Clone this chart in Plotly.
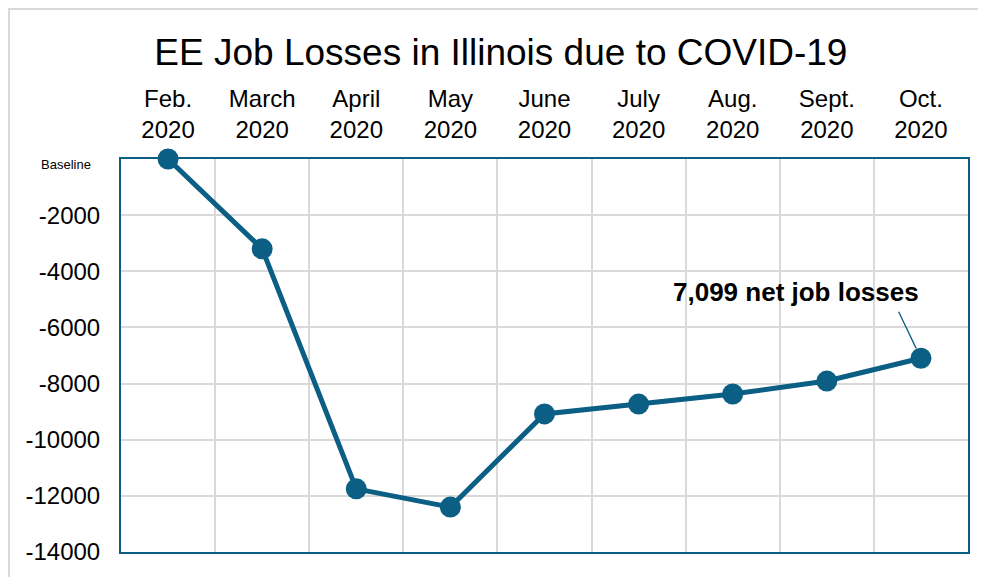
import plotly.graph_objects as go

# Datos
meses = ["Feb.<br>2020", "March<br>2020", "April<br>2020", "May<br>2020", "June<br>2020",
         "July<br>2020", "Aug.<br>2020", "Sept.<br>2020", "Oct.<br>2020"]
perdidas = [0, -3200, -11750, -12400, -9080, -8730, -8370, -7910, -7099]
y_ticks = [0, -2000, -4000, -6000, -8000, -10000, -12000, -14000]
y_labels = ["", "-2000", "-4000", "-6000", "-8000", "-10000", "-12000", "-14000"]

azul = "#0B5E84"
gris = "#D9D9D9"

fig = go.Figure()

fig.add_trace(go.Scatter(
    x=meses, y=perdidas, mode="lines+markers",
    line=dict(color=azul, width=5),
    marker=dict(color=azul, size=21),
    cliponaxis=False, showlegend=False
))

# Etiqueta "Baseline" en el cero
fig.add_annotation(
    x=0, xref="paper", xanchor="right", xshift=-28,
    y=y_ticks[0], yref="y", yshift=-5, text="Baseline",
    showarrow=False, font=dict(size=13, color="black")
)

# Flecha hacia el último punto
fig.add_annotation(
    x=meses[-1], y=perdidas[-1], text="",
    showarrow=True, arrowhead=0, arrowwidth=1.3, arrowcolor=azul,
    ax=-23, ay=-48, standoff=11
)
fig.add_annotation(
    x=meses[-1], y=perdidas[-1],
    text="<b>{:,} net job losses</b>".format(-perdidas[-1]),
    showarrow=False, xshift=-125, yshift=66,
    font=dict(size=26, color="black")
)

# Marco exterior
fig.add_shape(
    type="rect", xref="paper", yref="paper",
    x0=-0.1322, x1=1.05, y0=-0.2, y1=1.3817,
    line=dict(color=gris, width=2), layer="below"
)

fig.update_layout(
    width=978, height=569,
    margin=dict(l=113, r=18, t=151, b=25),
    paper_bgcolor="white", plot_bgcolor="white",
    font=dict(family="Liberation Sans, Arial, sans-serif", color="black", size=24),
    title=dict(
        text="EE Job Losses in Illinois due to COVID-19",
        x=0.504, xref="container", xanchor="center",
        y=0.922, yref="container", yanchor="middle",
        font=dict(size=37, color="black")
    ),
    xaxis=dict(
        side="top", type="category", range=[-0.5, 8.5],
        tickson="boundaries", showgrid=True, gridcolor=gris, gridwidth=1.5,
        ticks="", ticklabelstandoff=9,
        showline=True, linecolor=azul, linewidth=2, mirror=True,
        zeroline=False, tickfont=dict(size=24)
    ),
    yaxis=dict(
        range=[-14000, 0], tickvals=y_ticks, ticktext=y_labels,
        showgrid=True, gridcolor=gris, gridwidth=1.5,
        ticks="", ticklabelstandoff=14,
        showline=True, linecolor=azul, linewidth=2, mirror=True,
        zeroline=False, tickfont=dict(size=24)
    )
)

fig.write_html("out.html")
